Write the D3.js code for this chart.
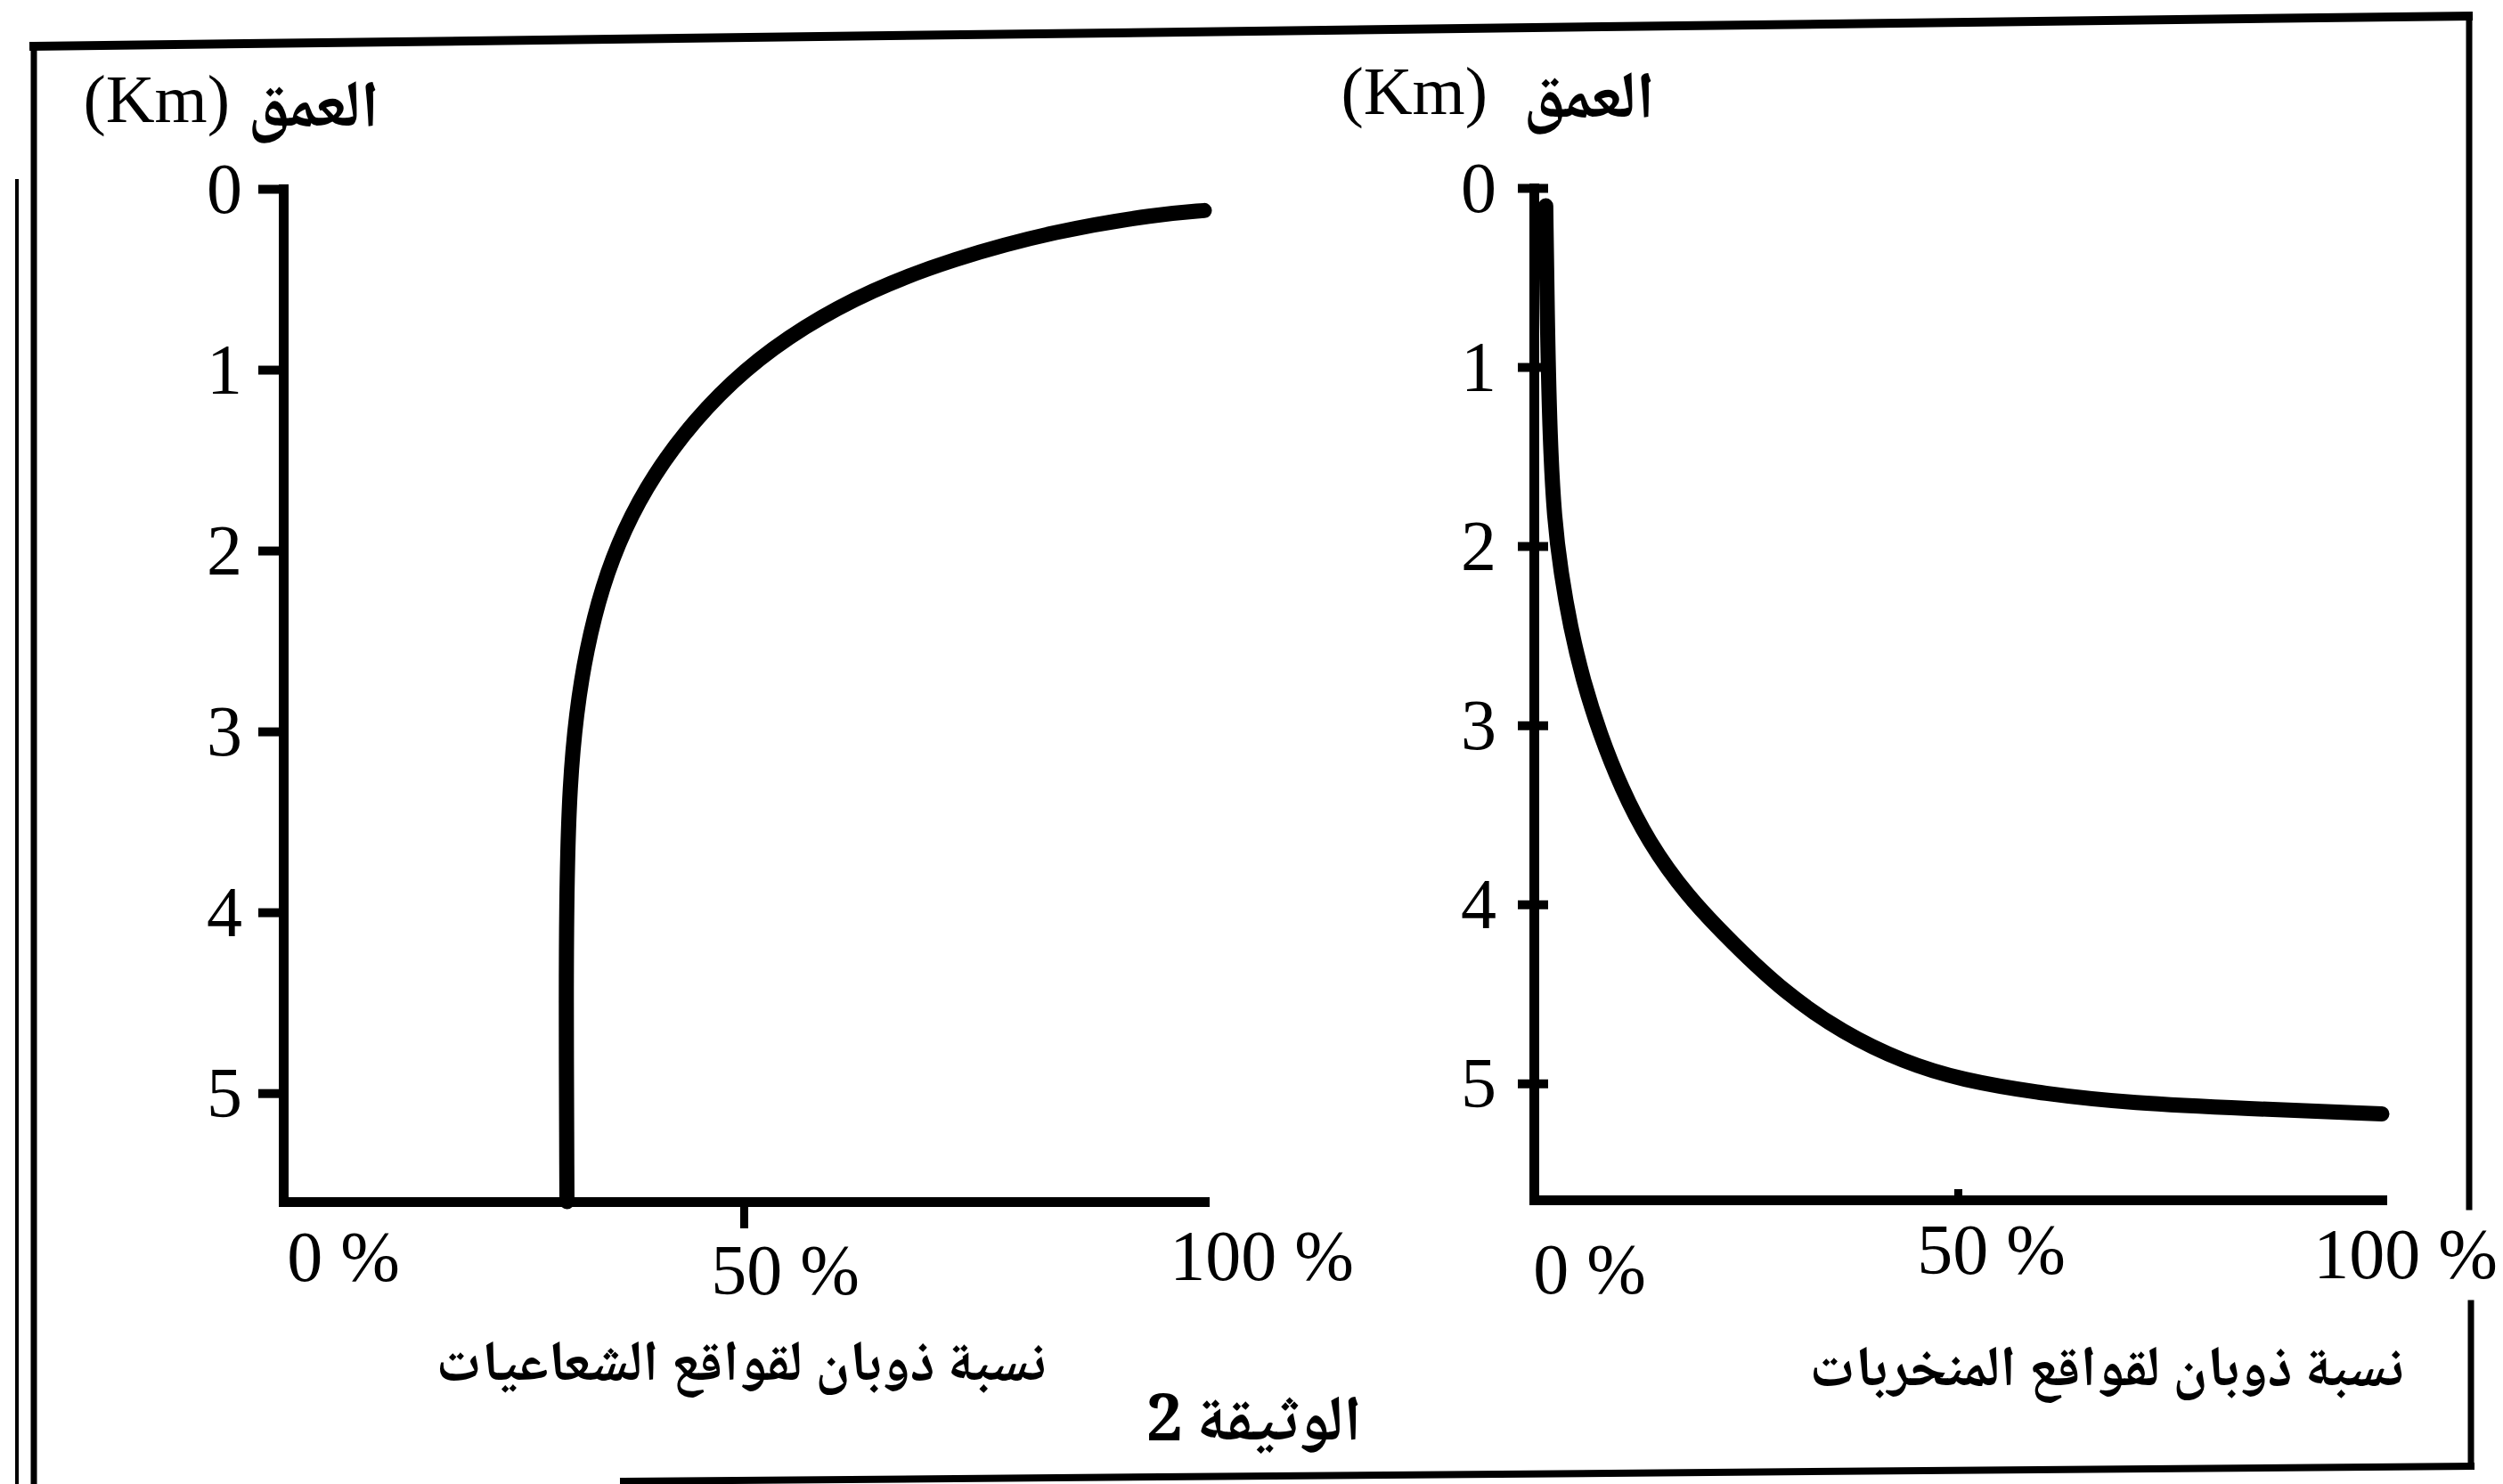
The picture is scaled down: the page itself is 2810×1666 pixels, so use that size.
<!DOCTYPE html>
<html><head><meta charset="utf-8">
<script src="https://cdn.jsdelivr.net/npm/d3@7"></script>
<style>
html,body{margin:0;padding:0;background:#fff;}
svg{display:block;background:#fff;}
</style></head><body>
<svg id="c" width="2810" height="1666"></svg>
<script>
// ---------- data ----------
const depthTicks = [0, 1, 2, 3, 4, 5];
const percentTicks = [0, 50, 100];
const depthTitle = "العمق";
const unitLabel = "(Km)";
const leftXTitle = "نسبة ذوبان لقواقع الشعاعيات";
const rightXTitle = "نسبة ذوبان لقواقع المنخربات";
const caption = "الوثيقة 2";

// left panel: radiolaria (percent dissolved, depth km)
const radiolariaPercent = [30.8, 30.7, 30.8, 31.1, 31.8, 32.9, 34.6, 37.0, 40.2, 44.6, 50.0, 56.5, 63.8, 72.5, 84.0, 95.0, 100];
const radiolariaDepth   = [5.6, 4.4, 3.8, 3.3, 2.9, 2.55, 2.2, 1.88, 1.58, 1.28, 1.0, 0.76, 0.56, 0.39, 0.23, 0.14, 0.12];

// right panel: foraminifera
const foramPercent = [1.4, 1.6, 1.9, 2.4, 3.2, 4.3, 5.8, 7.8, 10.3, 13.5, 18.0, 23.5, 29.5, 36.5, 43.6, 50.3, 60.4, 70.5, 83.9, 100];
const foramDepth   = [0.1, 0.8, 1.4, 1.85, 2.15, 2.45, 2.75, 3.05, 3.35, 3.65, 3.95, 4.22, 4.49, 4.72, 4.88, 4.98, 5.06, 5.11, 5.14, 5.17];

// ---------- layout ----------
const svg = d3.select("#c");
const serif = "'Liberation Serif','DejaVu Serif',serif";
const arab = "'Noto Naskh Arabic','Noto Sans Arabic','DejaVu Sans',sans-serif";
const ink = "#000";

const panels = [
  {
    xr: [318, 1352], yr: [212, 1349], ymax: 5.6,
    px: radiolariaPercent, py: radiolariaDepth,
    tickStyle: "left", x50: 30,
    labShift: [67, 46, 64], labY: [1438, 1453, 1437],
    unit: {x: 258, y: 137}, dt: {x: 352, y: 142},
    title: leftXTitle, tt: {x: 832, y: 1550}
  },
  {
    xr: [1722, 2674], yr: [211, 1347], ymax: 5.65,
    px: foramPercent, py: foramDepth,
    tickStyle: "cross", x50: -12,
    labShift: [62, 37, 26], labY: [1452, 1430, 1435],
    unit: {x: 1670, y: 128}, dt: {x: 1784, y: 132},
    title: rightXTitle, tt: {x: 2365, y: 1556}
  }
];

panels.forEach(p => {
  const x = d3.scaleLinear().domain([0, 100]).range(p.xr);
  const y = d3.scaleLinear().domain([0, p.ymax]).range(p.yr);
  const g = svg.append("g");

  // y axis
  const ya = g.append("g").attr("transform", `translate(${p.xr[0]},0)`)
    .call(d3.axisLeft(y).tickValues(depthTicks).tickFormat(d3.format("d"))
      .tickSize(p.tickStyle === "left" ? 28 : 18).tickSizeOuter(0).tickPadding(p.tickStyle === "left" ? 18 : 24))
    .attr("font-family", serif).attr("font-size", 80);
  ya.select(".domain").attr("stroke", ink).attr("stroke-width", 11).attr("stroke-linecap", "square");
  ya.selectAll(".tick line").attr("stroke", ink).attr("stroke-width", 10);
  if (p.tickStyle === "cross") ya.selectAll(".tick line").attr("x1", 16);
  ya.selectAll(".tick text").attr("fill", ink).attr("dy", "0.33em");

  // x axis
  const xa = g.append("g").attr("transform", `translate(0,${p.yr[1]})`)
    .call(d3.axisBottom(x).tickValues(percentTicks).tickFormat(d => d + " %").tickSizeOuter(0).tickSize(0))
    .attr("font-family", serif).attr("font-size", 80);
  xa.select(".domain").attr("stroke", ink).attr("stroke-width", 11).attr("stroke-linecap", "square");
  xa.selectAll(".tick line").attr("stroke", ink).attr("stroke-width", 9)
    .attr("y2", d => d === 50 ? p.x50 : 0);
  xa.selectAll(".tick text").attr("fill", ink).attr("text-anchor", "middle")
    .attr("dy", 0)
    .attr("dx", (d, i) => p.labShift[i])
    .attr("y", (d, i) => p.labY[i] - p.yr[1]);

  // curve
  const line = d3.line()
    .x(i => x(p.px[i])).y(i => y(p.py[i]))
    .curve(d3.curveBasis);
  g.append("path").datum(d3.range(p.px.length))
    .attr("d", line).attr("fill", "none").attr("stroke", ink)
    .attr("stroke-width", 17).attr("stroke-linecap", "round").attr("stroke-linejoin", "round");

  // depth title
  g.append("text").attr("x", p.unit.x).attr("y", p.unit.y).attr("text-anchor", "end")
    .attr("font-family", serif).attr("font-size", 76).attr("fill", ink).text(unitLabel);
  g.append("text").attr("x", p.dt.x).attr("y", p.dt.y).attr("text-anchor", "middle")
    .attr("font-family", arab).attr("font-weight", "bold").attr("font-size", 74).attr("fill", ink).text(depthTitle);

  // x title
  g.append("text").attr("x", p.tt.x).attr("y", p.tt.y).attr("text-anchor", "middle")
    .attr("font-family", arab).attr("font-weight", "bold").attr("font-size", 64).attr("fill", ink).text(p.title);
});

// caption
svg.append("text").attr("x", 1408).attr("y", 1617).attr("text-anchor", "middle")
  .attr("font-family", arab).attr("font-weight", "bold").attr("font-size", 72).attr("fill", ink).text(caption);

// ---------- frame (scanned page border) ----------
const frame = svg.append("g").attr("stroke", ink).attr("fill", "none").attr("stroke-linecap", "square");
frame.append("line").attr("x1", 38).attr("y1", 52).attr("x2", 2771).attr("y2", 18).attr("stroke-width", 10);
frame.append("line").attr("x1", 38).attr("y1", 52).attr("x2", 38).attr("y2", 1666).attr("stroke-width", 7);
frame.append("line").attr("x1", 19).attr("y1", 203).attr("x2", 19).attr("y2", 1666).attr("stroke-width", 4);
frame.append("line").attr("x1", 2772).attr("y1", 18).attr("x2", 2772).attr("y2", 1355).attr("stroke-width", 7);
frame.append("line").attr("x1", 2774).attr("y1", 1463).attr("x2", 2774).attr("y2", 1646).attr("stroke-width", 7);
frame.append("line").attr("x1", 700).attr("y1", 1663).attr("x2", 2774).attr("y2", 1646).attr("stroke-width", 8);
</script>
</body></html>
